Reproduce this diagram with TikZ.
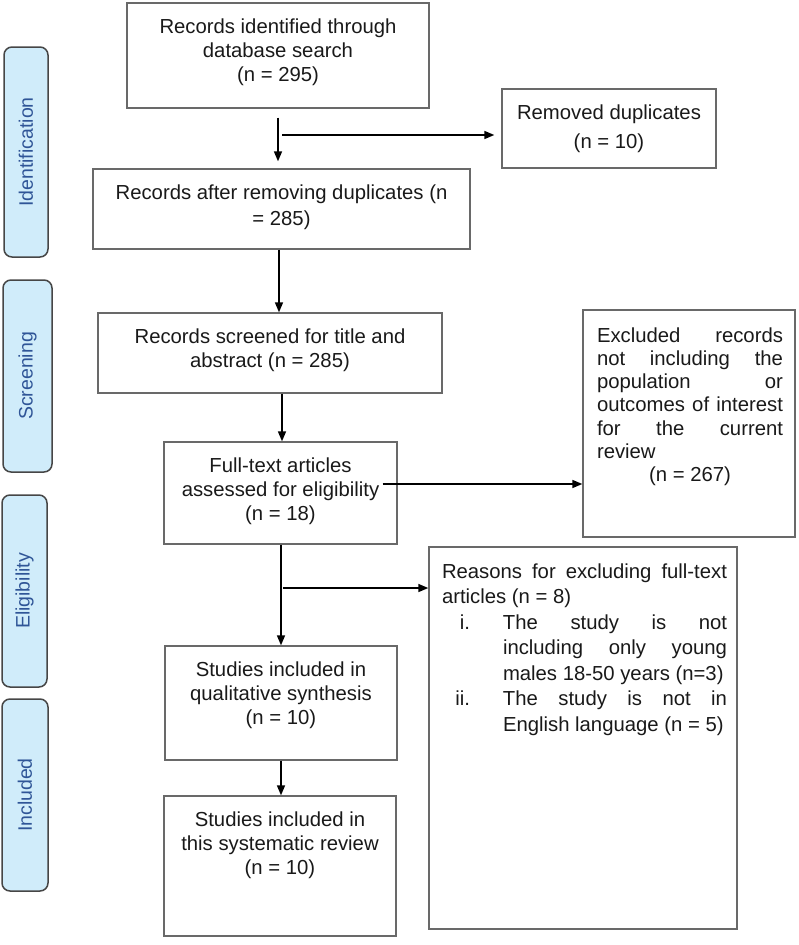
\documentclass[tikz,border=0pt]{standalone}
\usepackage{fontspec}
\setmainfont{Liberation Sans}
\usetikzlibrary{arrows.meta,calc}
\definecolor{lblfill}{RGB}{208,236,250}
\definecolor{lbldraw}{RGB}{70,70,70}
\definecolor{lbltext}{RGB}{47,85,151}
\definecolor{boxdraw}{RGB}{105,105,105}
\tikzset{
  stagebox/.style={draw=lbldraw, fill=lblfill, line width=1.5pt, rounded corners=8pt, inner sep=0pt},
  stagetext/.style={text=lbltext, rotate=90, font=\fontsize{19.5pt}{23pt}\selectfont, inner sep=0pt},
  flowbox/.style={draw=boxdraw, line width=1.4pt, inner sep=0pt, rectangle},
  flowtext/.style={inner sep=0pt, anchor=base, font=\fontsize{20.3pt}{24pt}\selectfont, text=black!90},
  arr/.style={line width=1.6pt, -{Triangle[length=10pt,width=8pt]}}
}
\begin{document}
\begin{tikzpicture}[x=1pt,y=-1pt]
\useasboundingbox (0,0) rectangle (798,945);
% stage labels
\node[stagebox, minimum width=44pt, minimum height=210pt] (L1) at (26,152) {};
\node[stagetext] (L1t) at (L1.center) {Identification};
\node[stagebox, minimum width=49pt, minimum height=192pt] (L2) at (27.5,376) {};
\node[stagetext] (L2t) at (L2.center) {Screening};
\node[stagebox, minimum width=45pt, minimum height=192pt] (L3) at (24.5,591) {};
\node[stagetext] (L3t) at (L3.center) {Eligibility};
\node[stagebox, minimum width=46pt, minimum height=192pt] (L4) at (25,795) {};
\node[stagetext] (L4t) at (L4.center) {Included};
% boxes
\node[flowbox, minimum width=302pt, minimum height=105pt] (b1) at (278,55.5) {};
\node[flowbox, minimum width=214pt, minimum height=79pt] (rem) at (609,128.5) {};
\node[flowbox, minimum width=377pt, minimum height=80pt] (b2) at (281.5,209) {};
\node[flowbox, minimum width=344pt, minimum height=80pt] (b3) at (270,353) {};
\node[flowbox, minimum width=233pt, minimum height=102pt] (b4) at (280.5,493) {};
\node[flowbox, minimum width=212pt, minimum height=227pt] (exc) at (689,423.5) {};
\node[flowbox, minimum width=232pt, minimum height=114pt] (b5) at (281,703) {};
\node[flowbox, minimum width=308pt, minimum height=382pt] (rea) at (583,738) {};
\node[flowbox, minimum width=232pt, minimum height=140pt] (b6) at (280,866) {};
% texts
\node[flowtext] (t1) at ([yshift=-31pt]b1.north) {\parbox[t]{290pt}{\centering Records identified through\\ database search\\ (n = 295)}};
\node[flowtext] (trem) at ([yshift=-31pt]rem.north) {\parbox[t]{205pt}{\centering Removed duplicates\\[5pt] (n = 10)}};
\node[flowtext] (t2) at ([yshift=-31pt]b2.north) {\parbox[t]{365pt}{\centering\baselineskip=26pt Records after removing duplicates (n\\ = 285)}};
\node[flowtext] (t3) at ([yshift=-31pt]b3.north) {\parbox[t]{330pt}{\centering Records screened for title and\\ abstract (n = 285)}};
\node[flowtext] (t4) at ([yshift=-31pt]b4.north) {\parbox[t]{225pt}{\centering Full-text articles\\ assessed for eligibility\\ (n = 18)}};
\node[flowtext] (texc) at (690,342) {\parbox[t]{186pt}{\baselineskip=23.3pt
\makebox[\linewidth][s]{Excluded records}\\
\makebox[\linewidth][s]{not including the}\\
\makebox[\linewidth][s]{population or}\\
\makebox[\linewidth][s]{outcomes of interest}\\
\makebox[\linewidth][s]{for the current}\\
review\\
\makebox[\linewidth][c]{(n = 267)}}};
\node[flowtext] (t5) at ([yshift=-31pt]b5.north) {\parbox[t]{225pt}{\centering Studies included in\\ qualitative synthesis\\ (n = 10)}};
\node[flowtext] (trea) at (584.5,578) {\parbox[t]{285pt}{\baselineskip=25.5pt
\makebox[\linewidth][s]{Reasons for excluding full-text}\\
articles (n = 8)\\
\makebox[28pt][r]{i.}\hspace*{33pt}\makebox[224pt][s]{The study is not}\\
\hspace*{61pt}\makebox[224pt][s]{including only young}\\
\hspace*{61pt}males 18-50 years (n=3)\\
\makebox[28pt][r]{ii.}\hspace*{33pt}\makebox[224pt][s]{The study is not in}\\
\hspace*{61pt}English language (n = 5)}};
\node[flowtext] (t6) at ([yshift=-31pt]b6.north) {\parbox[t]{225pt}{\centering Studies included in\\ this systematic review\\ (n = 10)}};
% connectors
\draw[arr, shorten <=9pt, shorten >=7pt] (b1.south) -- (b1.south |- b2.north);
\coordinate (j1) at (282,135);
\draw[arr, shorten >=7pt] (j1) -- (j1 -| rem.west);
\coordinate (j4) at ([xshift=-2.5pt]b2.south);
\draw[arr] (j4) -- (j4 |- b3.north);
\coordinate (j5) at ([xshift=1.5pt]b4.north);
\draw[arr] (j5 |- b3.south) -- (j5);
\coordinate (j3) at ([xshift=-15pt,yshift=9pt]b4.east);
\draw[arr] (j3) -- (j3 -| exc.west);
\coordinate (j6) at ([xshift=0.5pt]b4.south);
\draw[arr] (j6) -- (j6 |- b5.north);
\coordinate (j2) at (283,588);
\draw[arr] (j2) -- (j2 -| rea.west);
\draw[arr] (b5.south) -- (b5.south |- b6.north);
\end{tikzpicture}
\end{document}
